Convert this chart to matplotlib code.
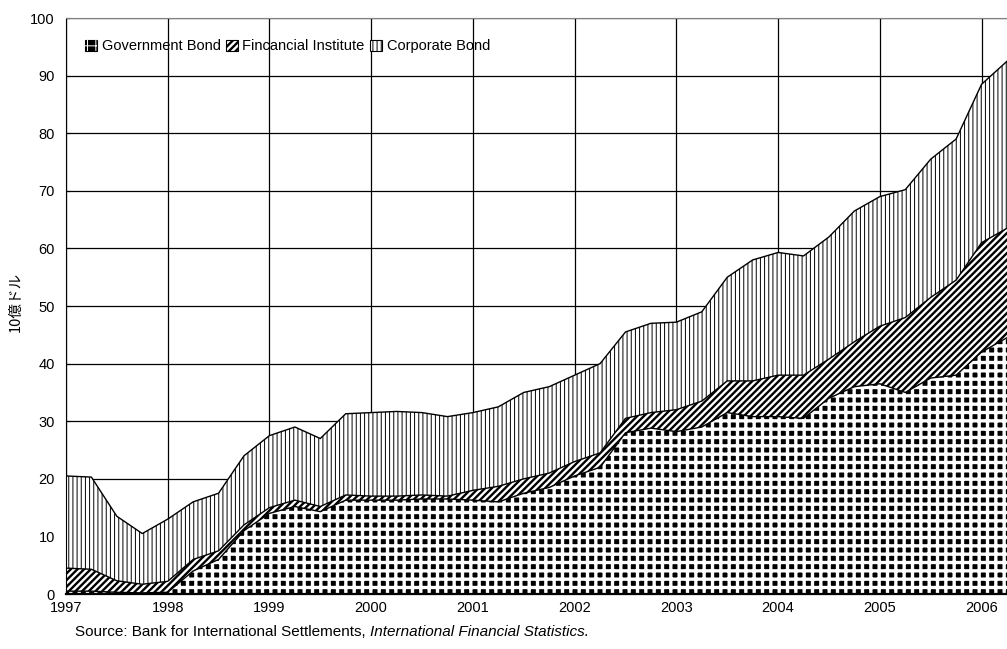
import numpy as np
import matplotlib
matplotlib.use("Agg")
import matplotlib.pyplot as plt
from matplotlib.patches import Patch

plt.rcParams['font.family'] = ['Liberation Sans', 'Noto Sans CJK JP', 'DejaVu Sans']

# quarterly observations, 1997Q1 .. 2006Q2 (billion USD)
dates = np.arange(1997, 2006.5, 0.25)
government = [0.5, 0.5, 0.3, 0.2, 0.3, 4.0, 6.0, 11.0, 14.0, 15.2,
              14.3, 16.3, 16.3, 16.3, 16.5, 16.5, 16.3, 16.0, 17.5, 18.5,
              20.5, 22.0, 28.0, 28.8, 28.2, 29.0, 31.5, 30.8, 30.8, 30.5,
              34.0, 36.0, 36.5, 35.0, 37.5, 38.0, 42.0, 44.5]
financial = [4.0, 3.8, 2.0, 1.5, 1.9, 2.0, 1.5, 1.0, 1.0, 1.1,
             0.9, 0.9, 0.7, 0.7, 0.7, 0.5, 1.7, 2.7, 2.5, 2.5,
             2.5, 2.5, 2.5, 2.7, 3.8, 4.5, 5.5, 6.2, 7.2, 7.5,
             6.8, 7.8, 10.0, 13.0, 14.0, 16.5, 19.0, 19.0]
corporate = [16.0, 16.0, 11.2, 8.8, 10.8, 10.0, 10.0, 12.0, 12.5, 12.7,
             11.8, 14.1, 14.5, 14.7, 14.3, 13.8, 13.5, 13.8, 15.0, 15.0,
             15.0, 15.5, 15.0, 15.5, 15.2, 15.5, 18.0, 21.0, 21.3, 20.7,
             21.2, 22.7, 22.5, 22.2, 24.0, 24.5, 27.5, 29.0]

labels = ['Government Bond', 'Fincancial Institute', 'Corporate Bond']
year_ticks = list(range(1997, 2007))
value_ticks = list(range(0, 101, 10))

# (face, hatch colour, hatch, hatch linewidth) per series
styles = [('black', 'white', '++', 2.4),
          ('white', 'black', '/////', 1.7),
          ('white', 'black', '||||', 0.7)]

gov = np.array(government)
fin_top = gov + np.array(financial)
total = fin_top + np.array(corporate)
bounds = [(0, gov), (gov, fin_top), (fin_top, total)]

fig = plt.figure(figsize=(10.07, 6.49), dpi=100)
ax = fig.add_axes([0.0655, 0.0847, 0.9345, 0.8875])

# hatch linewidth is picked up from rcParams when each artist is created
handles = []
for (lo, hi), (face, hcol, hatch, hlw) in zip(bounds, styles):
    plt.rcParams['hatch.linewidth'] = hlw
    ax.fill_between(dates, lo, hi, facecolor=face, edgecolor=hcol,
                    hatch=hatch, linewidth=0, zorder=2)
    if face == 'black':
        # black square with the white pattern on top
        handles.append((Patch(facecolor='black', edgecolor='black', linewidth=0.8),
                        Patch(facecolor='none', edgecolor=hcol, hatch=hatch, linewidth=0)))
    else:
        handles.append(Patch(facecolor=face, edgecolor=hcol, hatch=hatch, linewidth=0.8))

for line in (gov, fin_top, total):
    ax.plot(dates, line, color='black', lw=1.0, zorder=3)

ax.set_xlim(1997, 2006.25)
ax.set_ylim(0, 100)
ax.set_xticks(year_ticks)
ax.set_yticks(value_ticks)
ax.tick_params(direction='in', length=3, labelsize=10.5, width=0.8)
ax.tick_params(axis='y', pad=8)
ax.tick_params(axis='x', pad=5)
ax.grid(True, color='black', lw=0.9)
ax.set_axisbelow(True)
ax.spines['right'].set_visible(False)
ax.spines['top'].set_color('#808080')
ax.spines['bottom'].set_linewidth(1.6)

leg = ax.legend(handles, labels, loc='center left', bbox_to_anchor=(0.013, 0.951),
                ncol=3, frameon=False, fontsize=10.5, handlelength=0.8,
                handleheight=0.8, handletextpad=0.3, columnspacing=0.4, borderpad=0)
for patch in leg.get_patches():
    if patch.get_hatch() == '++':
        patch._hatch_linewidth = 2.0
    elif patch.get_hatch() == '/////':
        patch._hatch_linewidth = 1.7
    else:
        patch._hatch_linewidth = 0.7

fig.text(0.016, 1 - 302 / 649, '10億ドル', rotation=90, ha='center', va='center',
         fontsize=10.5, family=['Noto Sans CJK JP', 'DejaVu Sans'])

src = fig.text(75 / 1007, 1 - 632 / 649, 'Source: Bank for International Settlements, ',
               ha='left', va='center', fontsize=11)
ax.annotate('International Financial Statistics.', xy=(1, 0.5), xycoords=src,
            ha='left', va='center', fontsize=11, style='italic', annotation_clip=False)

fig.savefig('out.png', dpi=100)
